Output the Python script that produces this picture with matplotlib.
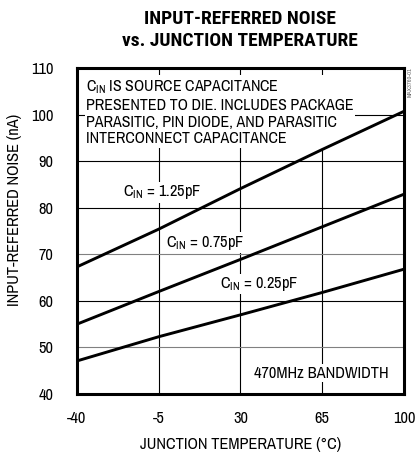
import numpy as np
import matplotlib
matplotlib.use("Agg")
import matplotlib.pyplot as plt

plt.rcParams["font.family"] = ["Archivo Narrow", "DejaVu Sans"]
plt.rcParams["mathtext.fontset"] = "custom"
plt.rcParams["mathtext.rm"] = "Archivo Narrow"
plt.rcParams["axes.unicode_minus"] = False

# junction temperature (degC) and noise (nA)
temps = [-40, -5, 30, 65, 100]
noise_125 = [67.3, 75.4, 84.1, 92.5, 100.7]
noise_075 = [55.0, 62.0, 68.9, 75.9, 82.9]
noise_025 = [47.1, 52.3, 57.0, 61.8, 66.8]

xticks = [-40, -5, 30, 65, 100]
yticks = [40, 50, 60, 70, 80, 90, 100, 110]

fig = plt.figure(figsize=(4.16, 4.58), dpi=100)
ax = fig.add_axes([0.185, 0.1397, 0.786, 0.7118])

ax.set_xlim(-40, 100)
ax.set_ylim(40, 110)
ax.set_xticks(xticks)
ax.set_yticks(yticks)
ax.tick_params(length=0, labelsize=11.8)
ax.tick_params(axis="y", pad=17)
ax.tick_params(axis="x", pad=12)
ax.grid(True, color="black", lw=0.8, zorder=0)
for gl, yv in zip(ax.get_ygridlines(), yticks):
    if yv in (50, 70):
        gl.set_color("#808080")
for sp in ax.spines.values():
    sp.set_linewidth(2.2)

for vals in (noise_125, noise_075, noise_025):
    ax.plot(temps, vals, color="black", lw=2.1, zorder=3, solid_capstyle="butt")

fs = 11.8
box = dict(facecolor="white", edgecolor="none", pad=1.0)
ax.text(-20.3, 83.3, r"C$_{\mathregular{IN}}$ = 1.25pF", fontsize=fs, va="center", ha="left", bbox=box, zorder=2)
ax.text(-1.9, 72.5, r"C$_{\mathregular{IN}}$ = 0.75pF", fontsize=fs, va="center", ha="left", bbox=box, zorder=2)
ax.text(21.2, 63.6, r"C$_{\mathregular{IN}}$ = 0.25pF", fontsize=fs, va="center", ha="left", bbox=box, zorder=2)
ax.text(35.8, 44.5, "470MHz BANDWIDTH", fontsize=fs, va="center", ha="left", bbox=box, zorder=2)
ax.text(-36.1, 107.8,
        "C$_{\\mathregular{IN}}$ IS SOURCE CAPACITANCE\nPRESENTED TO DIE. INCLUDES PACKAGE\n"
        "PARASITIC, PIN DIODE, AND PARASITIC\nINTERCONNECT CAPACITANCE",
        fontsize=11.5, va="top", ha="left", linespacing=1.15, bbox=box, zorder=2)

ax.set_xlabel("JUNCTION TEMPERATURE (°C)", fontsize=fs)
ax.xaxis.set_label_coords(0.5, -0.133)
ax.set_ylabel("INPUT-REFERRED NOISE (nA)", fontsize=fs)
ax.yaxis.set_label_coords(-0.168, 0.564)

fig.text(0.577, 0.935, "INPUT-REFERRED NOISE\nvs. JUNCTION TEMPERATURE",
         ha="center", va="center", fontsize=14, fontweight="bold", linespacing=1.3,
         family=["Roboto Condensed", "DejaVu Sans"])
fig.text(0.985, 0.82, "MAX3760-01", rotation=90, fontsize=4.5, color="#666666",
         ha="center", va="center")

fig.savefig("out.png", dpi=100)
